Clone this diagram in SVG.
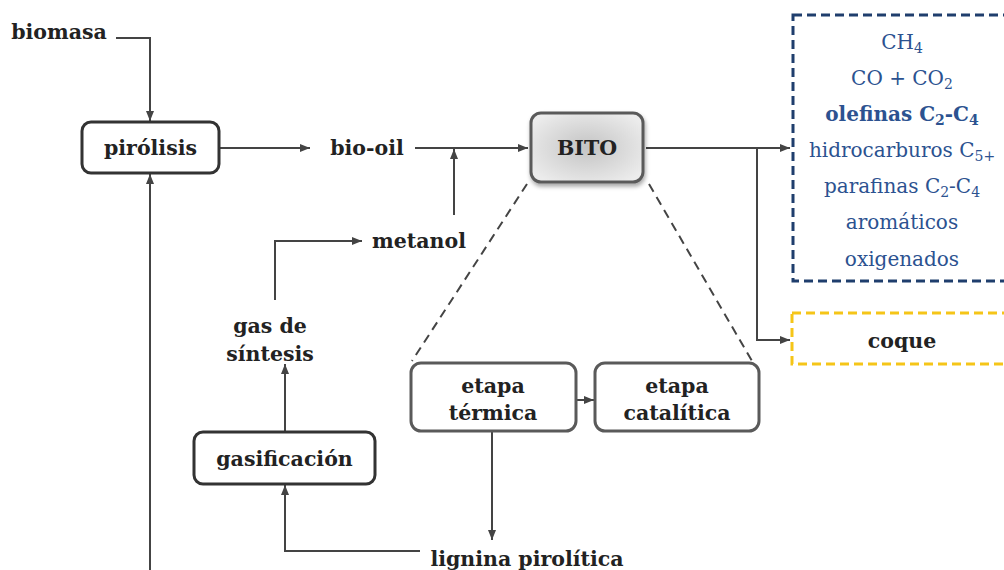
<svg xmlns="http://www.w3.org/2000/svg" width="1004" height="570" viewBox="0 0 1004 570">
  <style>
    .lbl { font-family: "DejaVu Serif", "Liberation Serif", serif; font-weight: bold; font-size: 20.5px; fill: #222; text-anchor: middle; }
    .prod { font-family: "DejaVu Serif", "Liberation Serif", serif; font-size: 20px; fill: #2c5290; text-anchor: middle; }
    .sub { font-size: 14px; }
    .box { fill: #fff; stroke: #333; stroke-width: 3; }
    .box2 { fill: #fff; stroke: #5a5a5a; stroke-width: 3; }
    .wire { fill: none; stroke: #444; stroke-width: 2; }
    .dash { fill: none; stroke: #444; stroke-width: 2; stroke-dasharray: 9 6; }
  </style>
  <defs>
    <marker id="arr" viewBox="0 0 10 10" refX="10" refY="5" markerWidth="10" markerHeight="10" markerUnits="userSpaceOnUse" orient="auto">
      <path d="M0,1 L10,5 L0,9 z" fill="#444"/>
    </marker>
    <radialGradient id="bitoFill" cx="50%" cy="50%" r="60%">
      <stop offset="0" stop-color="#c4c4c4"/>
      <stop offset="1" stop-color="#ececec"/>
    </radialGradient>
    <filter id="shadow" x="-20%" y="-20%" width="140%" height="150%">
      <feDropShadow dx="1" dy="3" stdDeviation="2" flood-color="#000" flood-opacity="0.35"/>
    </filter>
  </defs>

  <!-- connectors -->
  <g id="connectors">
    <path class="wire" d="M116,38 H150 V121" marker-end="url(#arr)"/>
    <path class="wire" d="M219,148 H310" marker-end="url(#arr)"/>
    <path class="wire" d="M415,148 H528" marker-end="url(#arr)"/>
    <path class="wire" d="M454,215 V149" marker-end="url(#arr)"/>
    <path class="wire" d="M646,148 H790" marker-end="url(#arr)"/>
    <path class="wire" d="M757,148 V340 H790" marker-end="url(#arr)"/>
    <path class="wire" d="M150,570 V174" marker-end="url(#arr)"/>
    <path class="wire" d="M275,300 V241 H362" marker-end="url(#arr)"/>
    <path class="wire" d="M285,432 V364" marker-end="url(#arr)"/>
    <path class="wire" d="M420,551 H285 V485" marker-end="url(#arr)"/>
    <path class="wire" d="M492,432 V540" marker-end="url(#arr)"/>
    <path class="wire" d="M577,400 H594" marker-end="url(#arr)"/>
    <path class="dash" d="M527,184 L412,361"/>
    <path class="dash" d="M649,184 L752,361"/>
  </g>

  <g id="biomasa"><text class="lbl" x="59" y="39">biomasa</text></g>

  <g id="pirolisis">
    <rect class="box" x="82" y="122" width="137" height="51" rx="9"/>
    <text class="lbl" x="150.5" y="155">pirólisis</text>
  </g>

  <g id="bio-oil"><text class="lbl" x="367" y="155">bio-oil</text></g>

  <g id="metanol"><text class="lbl" x="419" y="248">metanol</text></g>

  <g id="bito">
    <rect x="531" y="113" width="112" height="69" rx="10" fill="url(#bitoFill)" stroke="#5a5a5a" stroke-width="3" filter="url(#shadow)"/>
    <text class="lbl" x="587" y="155">BITO</text>
  </g>

  <g id="productos">
    <rect x="793" y="15" width="220" height="266" fill="none" stroke="#1f3e6d" stroke-width="3" stroke-dasharray="9 5"/>
    <text class="prod" x="902" y="49">CH<tspan class="sub" dy="4">4</tspan></text>
    <text class="prod" x="902" y="85">CO + CO<tspan class="sub" dy="4">2</tspan></text>
    <text class="prod" x="902" y="121" font-weight="bold">olefinas C<tspan class="sub" dy="4">2</tspan><tspan dy="-4">-C</tspan><tspan class="sub" dy="4">4</tspan></text>
    <text class="prod" x="902" y="157">hidrocarburos C<tspan class="sub" dy="4">5+</tspan></text>
    <text class="prod" x="902" y="193">parafinas C<tspan class="sub" dy="4">2</tspan><tspan dy="-4">-C</tspan><tspan class="sub" dy="4">4</tspan></text>
    <text class="prod" x="902" y="229">aromáticos</text>
    <text class="prod" x="902" y="266">oxigenados</text>
  </g>

  <g id="coque">
    <rect x="792" y="313" width="220" height="51" fill="none" stroke="#f5c518" stroke-width="3" stroke-dasharray="9 5"/>
    <text class="lbl" x="902" y="348" fill="#111">coque</text>
  </g>

  <g id="etapa-termica">
    <rect class="box2" x="411" y="363" width="165" height="68" rx="10"/>
    <text class="lbl" x="493" y="393">etapa</text>
    <text class="lbl" x="493" y="420">térmica</text>
  </g>

  <g id="etapa-catalitica">
    <rect class="box2" x="595" y="363" width="164" height="68" rx="10"/>
    <text class="lbl" x="677" y="393">etapa</text>
    <text class="lbl" x="677" y="420">catalítica</text>
  </g>

  <g id="gas-sintesis">
    <text class="lbl" x="270" y="333">gas de</text>
    <text class="lbl" x="270" y="361">síntesis</text>
  </g>

  <g id="gasificacion">
    <rect class="box" x="194" y="432" width="181" height="52" rx="9"/>
    <text class="lbl" x="284.5" y="466">gasificación</text>
  </g>

  <g id="lignina"><text class="lbl" x="527" y="566">lignina pirolítica</text></g>
</svg>
